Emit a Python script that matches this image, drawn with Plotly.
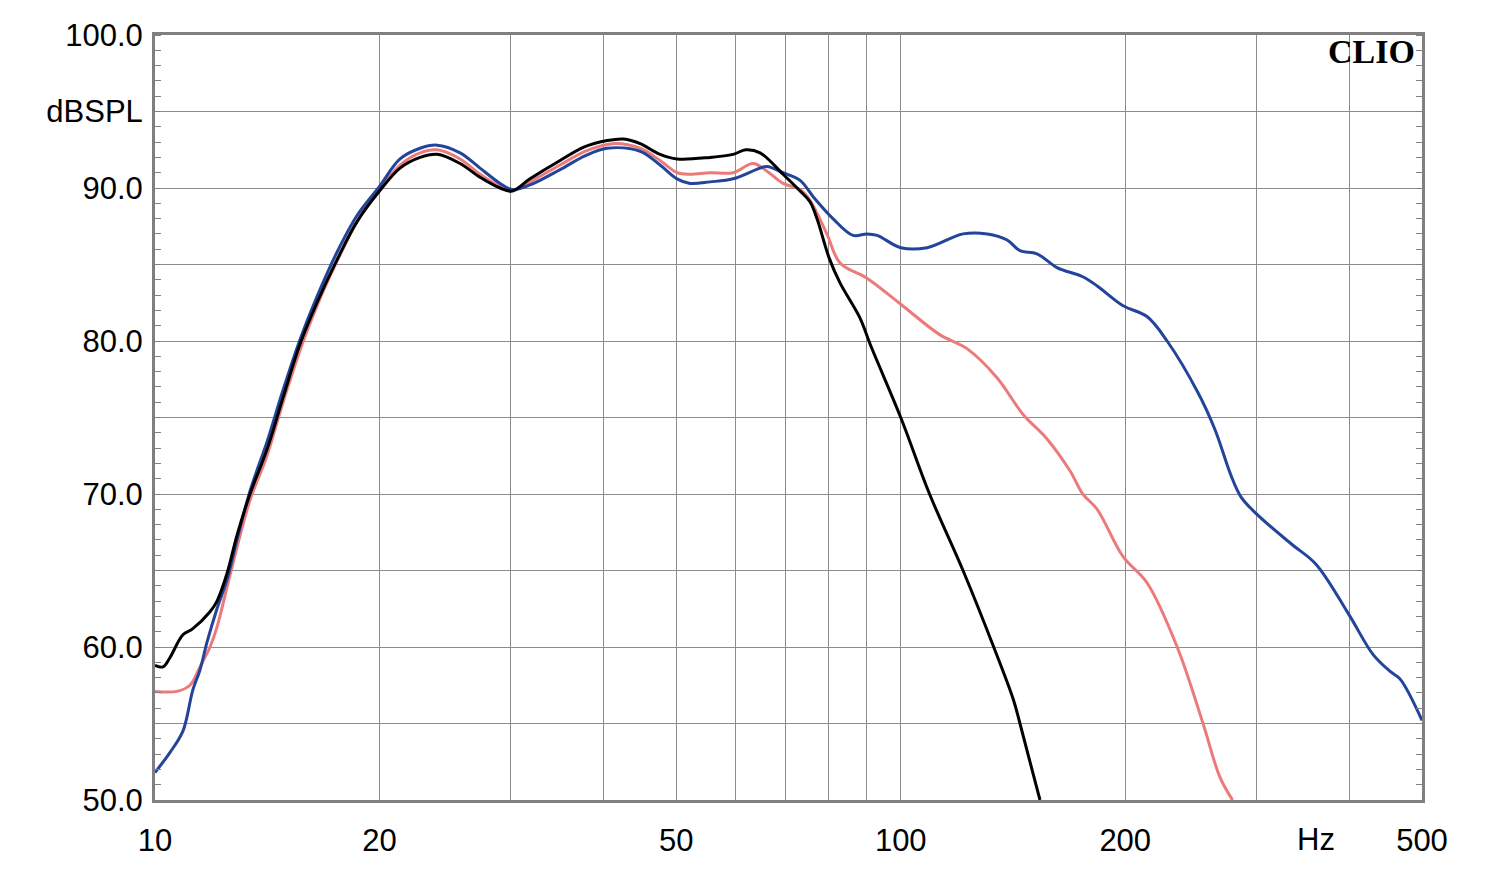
import math
import plotly.graph_objects as go

# ---- data ----
black_f = [10.0, 10.25, 10.47, 10.9, 11.24, 11.85, 12.11, 12.49, 12.88, 13.41, 14.13, 14.85, 15.65,
           16.49, 17.54, 18.66, 20.0, 21.31, 22.67, 23.89, 25.65, 27.28, 29.02, 30.11, 31.83, 34.93,
           37.72, 40.39, 42.5, 44.72, 47.56, 50.12, 55.5, 59.6, 62.0, 64.76, 69.53, 73.29, 75.56,
           77.2, 80.2, 82.9, 88.19, 90.96, 100.0, 109.3, 121.2, 133.0, 141.5, 144.5, 153.7]
black_db = [58.8, 58.7, 59.3, 60.8, 61.2, 62.3, 63.0, 64.8, 67.3, 70.0, 72.9, 76.3, 79.8,
            82.5, 85.3, 87.8, 89.8, 91.3, 92.0, 92.2, 91.6, 90.7, 90.0, 89.8, 90.6, 91.8,
            92.7, 93.1, 93.2, 92.9, 92.2, 91.9, 92.0, 92.2, 92.5, 92.3, 90.9, 89.8, 89.1,
            88.0, 85.4, 83.8, 81.5, 79.8, 75.0, 70.0, 65.0, 60.1, 56.6, 55.0, 50.0]

red_f = [10.0, 10.7, 11.14, 11.49, 11.85, 12.11, 12.49, 12.88, 13.41, 14.13, 14.85, 15.65, 16.49,
         17.54, 18.66, 20.0, 21.31, 22.67, 23.89, 25.65, 27.28, 29.02, 30.11, 31.83, 34.93, 37.72,
         41.1, 44.72, 47.56, 50.12, 52.18, 55.5, 59.6, 63.38, 66.18, 69.53, 73.29, 75.56, 79.6,
         82.9, 90.1, 100.0, 112.9, 122.7, 134.6, 145.9, 157.1, 168.7, 175.4, 183.4, 198.7, 213.9,
         234.8, 254.3, 267.9, 278.6]
red_db = [57.1, 57.1, 57.5, 58.7, 60.0, 61.3, 63.9, 66.5, 69.6, 72.5, 76.0, 79.4, 82.3,
          85.2, 87.8, 89.9, 91.5, 92.3, 92.5, 91.9, 90.9, 90.1, 89.8, 90.4, 91.5, 92.4,
          92.9, 92.6, 91.8, 91.0, 90.9, 91.0, 91.0, 91.6, 91.1, 90.3, 89.9, 89.2, 87.0,
          85.1, 84.1, 82.4, 80.4, 79.5, 77.6, 75.2, 73.6, 71.5, 70.0, 69.0, 65.9, 64.2,
          60.0, 55.0, 51.5, 50.0]

blue_f = [10.0, 10.47, 10.9, 11.24, 11.49, 11.74, 12.11, 12.49, 12.88, 13.41, 14.13, 14.85, 15.65,
          16.49, 17.54, 18.66, 20.0, 21.31, 22.67, 23.89, 25.65, 27.28, 29.02, 30.11, 31.83, 34.93,
          37.72, 40.39, 44.72, 47.56, 50.12, 52.18, 55.5, 59.6, 64.76, 66.18, 69.53, 73.29, 76.4,
          81.1, 86.3, 90.1, 93.0, 100.0, 108.5, 121.2, 130.6, 138.9, 144.5, 152.3, 162.0, 175.4,
          183.4, 198.7, 213.9, 227.6, 250.5, 263.9, 277.3, 286.0, 301.4, 334.7, 360.6, 399.2,
          430.0, 453.2, 467.4, 500.0]
blue_db = [51.8, 53.1, 54.5, 57.2, 58.5, 60.3, 62.5, 64.4, 67.0, 70.2, 73.4, 76.8, 80.1,
           82.9, 85.8, 88.2, 90.1, 91.9, 92.6, 92.8, 92.3, 91.3, 90.3, 89.9, 90.2, 91.2,
           92.1, 92.6, 92.4, 91.5, 90.6, 90.3, 90.4, 90.6, 91.3, 91.4, 91.0, 90.5, 89.4,
           88.0, 86.9, 87.0, 86.9, 86.1, 86.1, 87.0, 87.0, 86.6, 85.9, 85.7, 84.8, 84.2,
           83.6, 82.3, 81.6, 80.0, 76.6, 74.2, 71.2, 69.8, 68.6, 66.7, 65.4, 62.1,
           59.5, 58.4, 57.9, 55.2]

x_tickvals = [10, 20, 30, 40, 50, 60, 70, 80, 90, 100, 200, 300, 400, 500]
x_ticktext = ["10", "20", "", "", "50", "", "", "", "", "100", "200", "", "", "500"]
y_tickvals = [50, 55, 60, 65, 70, 75, 80, 85, 90, 95, 100]
y_ticktext = ["50.0", "", "60.0", "", "70.0", "", "80.0", "", "90.0", "dBSPL", "100.0"]
unit_label = "Hz"
unit_label_freq = 360
brand = "CLIO"

FONT = "Liberation Sans, Arial, sans-serif"
FRAME = "#808080"
GRID = "#8c8c8c"
FS = 31

fig = go.Figure()
fig.add_trace(go.Scatter(x=red_f, y=red_db, mode="lines",
                         line=dict(color="#ec7a7a", width=3, shape="spline", smoothing=1.0)))
fig.add_trace(go.Scatter(x=blue_f, y=blue_db, mode="lines",
                         line=dict(color="#22449a", width=3, shape="spline", smoothing=1.0)))
fig.add_trace(go.Scatter(x=black_f, y=black_db, mode="lines",
                         line=dict(color="#000000", width=3, shape="spline", smoothing=1.0)))

fig.update_layout(
    width=1500, height=870,
    margin=dict(l=155, r=78, t=35, b=70),
    paper_bgcolor="white", plot_bgcolor="white",
    showlegend=False,
    font=dict(family=FONT, size=FS, color="black"),
)
fig.update_xaxes(
    type="log", range=[1, math.log10(500)],
    tickmode="array", tickvals=x_tickvals, ticktext=x_ticktext,
    showgrid=True, gridcolor=GRID, gridwidth=1,
    showline=True, linecolor=FRAME, linewidth=3, mirror=True,
    ticks="", ticklabelstandoff=11, zeroline=False,
    tickfont=dict(family=FONT, size=FS, color="black"),
)
fig.update_yaxes(
    range=[50, 100],
    tickmode="array", tickvals=y_tickvals, ticktext=y_ticktext,
    showgrid=True, gridcolor=GRID, gridwidth=1,
    showline=True, linecolor=FRAME, linewidth=3, mirror="allticks",
    ticks="", ticklabelstandoff=3, zeroline=False,
    minor=dict(dtick=1, ticks="inside", ticklen=6, tickcolor=FRAME, tickwidth=1, showgrid=False),
    tickfont=dict(family=FONT, size=FS, color="black"),
)

fig.add_annotation(x=math.log10(unit_label_freq), y=-0.052, xref="x", yref="paper",
                   text=unit_label, showarrow=False, yanchor="middle", xanchor="center",
                   font=dict(family=FONT, size=FS, color="black"))
fig.add_annotation(x=0.996, y=0.978, xref="paper", yref="paper",
                   text="<b>" + brand + "</b>", showarrow=False, xanchor="right", yanchor="middle",
                   font=dict(family="Liberation Serif, Times New Roman, serif", size=34, color="black"))

fig.write_html("out.html")
